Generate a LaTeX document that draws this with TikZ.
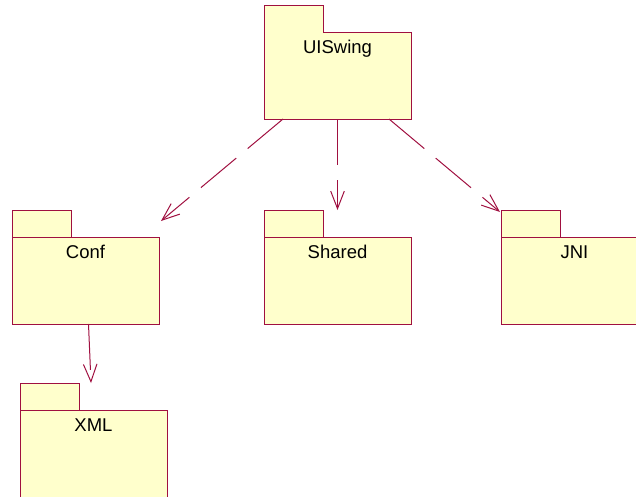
\documentclass[tikz,border=0pt]{standalone}
\usepackage{fontspec}
\setmainfont{Liberation Sans}
\usetikzlibrary{arrows.meta,calc}
\definecolor{pkgline}{RGB}{160,16,64}
\definecolor{pkgfill}{RGB}{255,255,204}
\tikzset{
  pkgbody/.style={draw=pkgline, fill=pkgfill, line width=1pt, minimum width=147pt, minimum height=87pt, inner sep=0pt, outer sep=0pt, anchor=north west},
  pkgtab/.style={draw=pkgline, fill=pkgfill, line width=1pt, minimum width=59pt, minimum height=27pt, inner sep=0pt, outer sep=0pt, anchor=south west},
  pkgtabopen/.style={fill=pkgfill, minimum width=58pt, minimum height=28pt, inner sep=0pt, outer sep=0pt, anchor=south west},
  pkgedge/.style={draw=pkgline, line width=1pt},
  pkglabel/.style={anchor=base, inner sep=0pt, font=\fontsize{18.5}{22}\selectfont},
  dep/.style={draw=pkgline, line width=1pt, dash pattern=on 46pt off 15pt, -{Straight Barb[length=17.5pt, width=13.6pt, line width=1pt]}},
}
\begin{document}
\begin{tikzpicture}[x=1pt, y=-1pt]
\useasboundingbox (0,0) rectangle (636,496);
% UISwing (tab merged with body: no line under the tab)
\node[pkgbody] (uiswing) at (264,32) {};
\node[pkgtabopen] (uiswingtab) at ($(uiswing.north west)+(0.5,1)$) {};
\draw[pkgedge] (uiswing.north west) -- ++(0,-27) -- ++(59,0) -- ++(0,27);
\node[pkglabel] (uiswinglbl) at ($(uiswing.north)+(0,21.5)$) {UISwing};
% Conf
\node[pkgbody] (conf) at (12,237) {};
\node[pkgtab] (conftab) at (conf.north west) {};
\node[pkglabel] (conflbl) at ($(conf.north)+(0,21)$) {Conf};
% Shared
\node[pkgbody] (shared) at (264,237) {};
\node[pkgtab] (sharedtab) at (shared.north west) {};
\node[pkglabel] (sharedlbl) at ($(shared.north)+(0,21)$) {Shared};
% JNI
\node[pkgbody] (jni) at (501,237) {};
\node[pkgtab] (jnitab) at (jni.north west) {};
\node[pkglabel] (jnilbl) at ($(jni.north)+(0,21)$) {JNI};
% XML
\node[pkgbody] (xml) at (20,410) {};
\node[pkgtab] (xmltab) at (xml.north west) {};
\node[pkglabel] (xmllbl) at ($(xml.north)+(0,21)$) {XML};
% dependencies
\draw[dep] ($(uiswing.south)+(-54.5,0)$) -- ($(conf.north east)+(2,-16)$);
\draw[dep] (uiswing.south) -- ($(shared.north)+(0,-27)$);
\draw[dep] ($(uiswing.south)+(51.5,0)$) -- ($(jnitab.north west)+(-1,2)$);
\draw[dep] ($(conf.south)+(3,0)$) -- ($(xmltab.north east)+(12,0)$);
\end{tikzpicture}
\end{document}
